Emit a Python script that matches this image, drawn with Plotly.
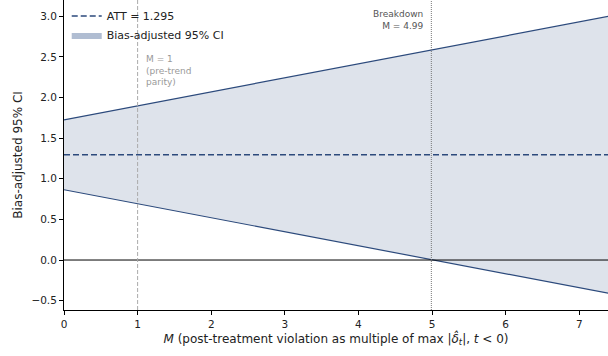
import plotly.graph_objects as go

M_grid = [0, 1, 2, 3, 4, 5, 6, 7, 7.4]
ci_lower = [0.865, 0.693, 0.520, 0.348, 0.175, 0.003, -0.170, -0.342, -0.41]
ci_upper = [1.725, 1.897, 2.070, 2.242, 2.415, 2.587, 2.760, 2.932, 3.0]
att = 1.295
breakdown_M = 4.99
pretrend_M = 1

x_ticks = [0, 1, 2, 3, 4, 5, 6, 7]
y_ticks = [-0.5, 0.0, 0.5, 1.0, 1.5, 2.0, 2.5, 3.0]

navy = "#2c4a7c"
fig = go.Figure()

fig.add_trace(go.Scatter(x=M_grid, y=ci_lower, mode="lines",
                         line=dict(color=navy, width=1.2), showlegend=False, hoverinfo="skip"))
fig.add_trace(go.Scatter(x=M_grid, y=ci_upper, mode="lines", fill="tonexty",
                         fillcolor="rgba(222,227,235,1)",
                         line=dict(color=navy, width=1.2), showlegend=False, hoverinfo="skip"))

fig.add_hline(y=0, line=dict(color="black", width=1))
fig.add_vline(x=pretrend_M, line=dict(color="#aaaaaa", width=1, dash="4px,2px"))
fig.add_vline(x=breakdown_M, line=dict(color="#777777", width=1, dash="1px,1px"))

fig.add_trace(go.Scatter(x=[M_grid[0], M_grid[-1]], y=[att, att], mode="lines",
                         line=dict(color=navy, width=1.6, dash="6px,3px"),
                         name=f"ATT = {att:.3f}"))
fig.add_trace(go.Scatter(x=[None], y=[None], mode="lines", fill="toself",
                         fillcolor="rgb(176,189,210)", line=dict(width=0, color="rgb(176,189,210)"),
                         name="Bias-adjusted 95% CI"))

fig.add_annotation(x=pretrend_M, y=2.56, xref="x", yref="y",
                   text="M = 1<br>(pre-trend<br>parity)", showarrow=False,
                   xanchor="left", yanchor="top", xshift=6, align="left",
                   font=dict(size=9, color="#999999", family="DejaVu Sans"))
fig.add_annotation(x=breakdown_M, y=3.2, xref="x", yref="y",
                   text="Breakdown<br>M = 4.99", showarrow=False,
                   xanchor="right", yanchor="top", xshift=-6, yshift=-7, align="right",
                   font=dict(size=9, color="#555555", family="DejaVu Sans"))

axis_common = dict(showgrid=False, zeroline=False, showline=True, linecolor="black",
                   linewidth=1, ticks="outside", ticklen=4, tickcolor="black",
                   automargin=False,
                   tickfont=dict(size=10.5, color="#222222", family="DejaVu Sans"))

fig.update_xaxes(range=[0, 7.39], tickvals=x_ticks, **axis_common,
                 title=dict(text="<i>M</i> (post-treatment violation as multiple of max |<i>δ̂</i><sub><i>t</i></sub>|, <i>t</i> < 0)",
                            font=dict(size=12, color="#222222", family="DejaVu Sans"), standoff=4))
fig.update_yaxes(range=[-0.615, 3.2], tickvals=y_ticks,
                 ticktext=["\u22120.5", "0.0", "0.5", "1.0", "1.5", "2.0", "2.5", "3.0"],
                 **axis_common,
                 title=dict(text="Bias-adjusted 95% CI",
                            font=dict(size=12, color="#222222", family="DejaVu Sans"), standoff=6))

fig.update_layout(width=608, height=356, margin=dict(l=64, r=0, t=0, b=46),
                  plot_bgcolor="white", paper_bgcolor="white",
                  font=dict(family="DejaVu Sans"),
                  legend=dict(x=0.005, y=0.995, xanchor="left", yanchor="top", traceorder="normal",
                              bgcolor="rgba(255,255,255,0)", font=dict(size=11, color="#222222"),
                              tracegroupgap=0, itemwidth=30))

fig.write_html("out.html", config={"displayModeBar": False},
               post_script="document.body.style.margin='0';document.body.style.overflow='hidden';")
